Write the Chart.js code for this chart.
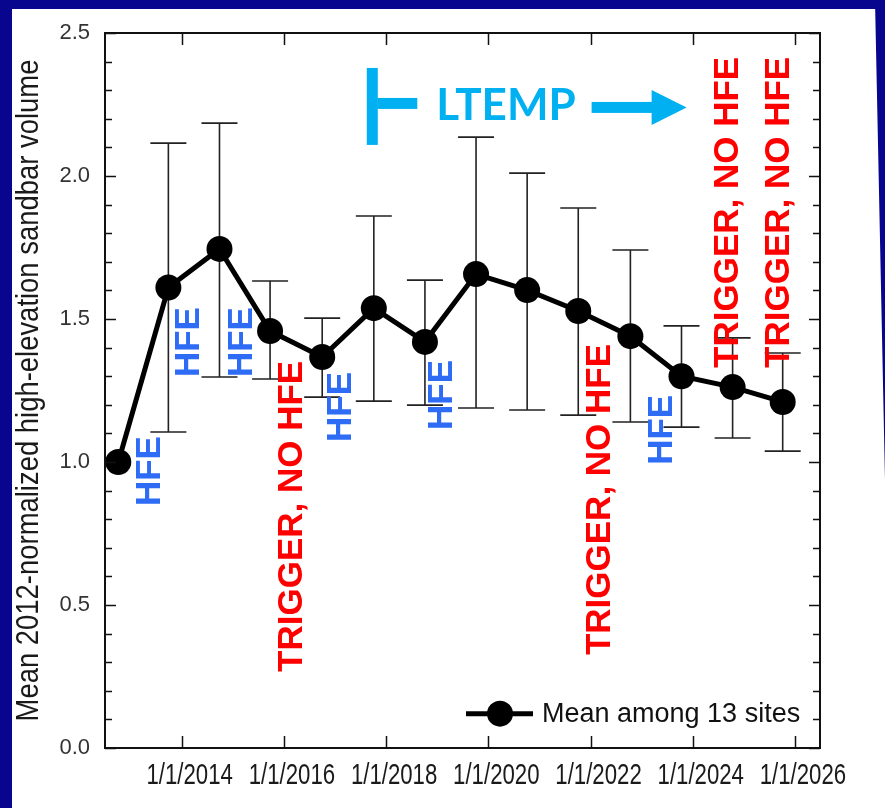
<!DOCTYPE html>
<html>
<head>
<meta charset="utf-8">
<title>Mean normalized high-elevation sandbar volume</title>
<script src="https://cdn.jsdelivr.net/npm/chart.js@4.4.1/dist/chart.umd.min.js"></script>
<style>
    html, body { margin: 0; padding: 0; background: #ffffff; }
    canvas { display: block; }
</style>
</head>
<body>
<canvas id="sandbarChart" width="885" height="808"></canvas>
<script>
// Survey dates (decimal years) and mean of the 13 sites
const surveyYears = [2012.76, 2013.74, 2014.74, 2015.73, 2016.75, 2017.76, 2018.76, 2019.76, 2020.76, 2021.76, 2022.78, 2023.78, 2024.78, 2025.76];
const meanVolume = [1.00, 1.61, 1.745, 1.458, 1.367, 1.538, 1.42, 1.657, 1.601, 1.528, 1.44, 1.30, 1.262, 1.21];
const upperBound = [null, 2.115, 2.185, 1.633, 1.503, 1.86, 1.636, 2.136, 2.01, 1.888, 1.741, 1.476, 1.434, 1.381];
const lowerBound = [null, 1.105, 1.297, 1.29, 1.227, 1.213, 1.199, 1.189, 1.182, 1.164, 1.14, 1.122, 1.084, 1.038];

const tickYears = [2014, 2016, 2018, 2020, 2022, 2024, 2026];
const yTicks = [0, 0.5, 1.0, 1.5, 2.0, 2.5];
const yTitle = 'Mean 2012-normalized high-elevation sandbar volume';

// Event labels (vertical text), anchored at their lower end
const eventLabels = ['HFE', 'HFE', 'HFE', 'TRIGGER, NO HFE', 'HFE', 'HFE', 'TRIGGER, NO HFE', 'HFE', 'TRIGGER, NO HFE', 'TRIGGER, NO HFE'];
const eventYears = [2013.35, 2014.12, 2015.14, 2016.13, 2017.09, 2019.07, 2022.16, 2023.36, 2024.65, 2025.65];
const eventBase = [0.846, 1.297, 1.297, 0.266, 1.07, 1.112, 0.325, 0.99, 1.329, 1.329];

// LTEMP period marker
const ltempStartYear = 2017.73;
const ltempArrowEndYear = 2023.88;

const NAVY = '#08058f';
const HFE_BLUE = '#2f6cf6';
const TRIGGER_RED = '#ff0000';
const LTEMP_CYAN = '#00b0f0';
const SANS = "'Liberation Sans', Arial, sans-serif";
const NARROW_SCALE = 0.74; // squeeze to mimic Arial Narrow

/**
 * Background, error bars, frame ticks, narrow labels and annotations
 */
const decorPlugin = {
    id: 'decor',
    beforeDraw(chart) {
        const ctx = chart.ctx;
        ctx.save();
        ctx.fillStyle = '#ffffff';
        ctx.fillRect(0, 0, chart.width, chart.height);
        ctx.fillStyle = NAVY;
        ctx.fillRect(0, 0, chart.width, 9);
        ctx.fillRect(0, 0, 12, chart.height);
        ctx.beginPath();
        ctx.moveTo(875, 0);
        ctx.lineTo(chart.width, 0);
        ctx.lineTo(chart.width, 480);
        ctx.closePath();
        ctx.fill();
        ctx.restore();
    },
    beforeDatasetsDraw(chart) {
        const ctx = chart.ctx;
        const xs = chart.scales.x;
        const ys = chart.scales.y;
        ctx.save();
        ctx.strokeStyle = '#222222';
        ctx.lineWidth = 1.6;
        for (let i = 0; i < surveyYears.length; i++) {
            if (upperBound[i] == null) continue;
            const px = xs.getPixelForValue(surveyYears[i]);
            const top = ys.getPixelForValue(upperBound[i]);
            const bot = ys.getPixelForValue(lowerBound[i]);
            ctx.beginPath();
            ctx.moveTo(px, top);
            ctx.lineTo(px, bot);
            ctx.moveTo(px - 18, top);
            ctx.lineTo(px + 18, top);
            ctx.moveTo(px - 18, bot);
            ctx.lineTo(px + 18, bot);
            ctx.stroke();
        }
        ctx.restore();
    },
    afterDraw(chart) {
        const ctx = chart.ctx;
        const area = chart.chartArea;
        const xs = chart.scales.x;
        const ys = chart.scales.y;
        ctx.save();

        // frame
        ctx.strokeStyle = '#111111';
        ctx.lineWidth = 2;
        ctx.strokeRect(area.left, area.top, area.right - area.left, area.bottom - area.top);

        // inside ticks
        ctx.lineWidth = 1.5;
        ctx.beginPath();
        for (let k = 0; k <= 25; k++) {
            const py = Math.round(ys.getPixelForValue(k / 10)) + 0.5;
            const len = (k % 5 === 0) ? 11 : 7;
            ctx.moveTo(area.left, py);
            ctx.lineTo(area.left + len, py);
            ctx.moveTo(area.right, py);
            ctx.lineTo(area.right - len, py);
        }
        tickYears.forEach(function(yr) {
            const px = Math.round(xs.getPixelForValue(yr)) + 0.5;
            ctx.moveTo(px, area.bottom);
            ctx.lineTo(px, area.bottom - 12);
            ctx.moveTo(px, area.top);
            ctx.lineTo(px, area.top + 12);
        });
        ctx.stroke();

        // x tick labels (narrow), set slightly right of their ticks as in the original
        ctx.fillStyle = '#1a1a1a';
        ctx.font = '30px ' + SANS;
        ctx.textAlign = 'center';
        ctx.textBaseline = 'middle';
        xs.ticks.forEach(function(t) {
            const px = xs.getPixelForValue(t.value);
            ctx.save();
            ctx.translate(px + 8, area.bottom + 28);
            ctx.scale(NARROW_SCALE, 1);
            ctx.fillText('1/1/' + t.value, 0, 0);
            ctx.restore();
        });

        // y axis title (narrow)
        ctx.save();
        ctx.font = '31px ' + SANS;
        ctx.translate(29, (area.top + area.bottom) / 2);
        ctx.rotate(-Math.PI / 2);
        ctx.scale(0.885, 1);
        ctx.fillText(yTitle, 0, 0);
        ctx.restore();

        // event labels
        ctx.font = 'bold 35px ' + SANS;
        ctx.textAlign = 'left';
        ctx.textBaseline = 'middle';
        for (let i = 0; i < eventLabels.length; i++) {
            const px = xs.getPixelForValue(eventYears[i]);
            const py = ys.getPixelForValue(eventBase[i]);
            ctx.save();
            ctx.translate(px, py);
            ctx.rotate(-Math.PI / 2);
            ctx.fillStyle = eventLabels[i] === 'HFE' ? HFE_BLUE : TRIGGER_RED;
            ctx.fillText(eventLabels[i], 0, 2);
            ctx.restore();
        }

        // LTEMP marker
        const lx = xs.getPixelForValue(ltempStartYear);
        const ly = ys.getPixelForValue(2.245);
        ctx.fillStyle = LTEMP_CYAN;
        ctx.fillRect(lx - 5.5, ly - 38, 11, 77);
        ctx.fillRect(lx + 5, ly - 8, 40, 11);
        ctx.font = 'bold 44px Lato, ' + SANS;
        ctx.textBaseline = 'middle';
        ctx.fillText('LTEMP', lx + 64, ly);
        const tip = xs.getPixelForValue(ltempArrowEndYear);
        ctx.fillRect(tip - 95, ly - 4, 62, 11);
        ctx.beginPath();
        ctx.moveTo(tip - 35, ly - 16);
        ctx.lineTo(tip, ly + 1.5);
        ctx.lineTo(tip - 35, ly + 19);
        ctx.closePath();
        ctx.fill();

        // legend
        const ds = chart.data.datasets[0];
        const legY = ys.getPixelForValue(0.12);
        ctx.strokeStyle = '#000000';
        ctx.lineWidth = 5;
        ctx.beginPath();
        ctx.moveTo(466, legY);
        ctx.lineTo(533, legY);
        ctx.stroke();
        ctx.fillStyle = '#000000';
        ctx.beginPath();
        ctx.arc(500, legY, 13, 0, Math.PI * 2);
        ctx.fill();
        ctx.fillStyle = '#111111';
        ctx.font = '27px ' + SANS;
        ctx.textAlign = 'left';
        ctx.fillText(ds.label, 542, legY + 1);

        ctx.restore();
    }
};

let sandbarChart = null;

function renderSandbarChart() {
    const ctx = document.getElementById('sandbarChart');
    if (!ctx) return;

    const points = surveyYears.map(function(yr, i) {
        return { x: yr, y: meanVolume[i] };
    });

    sandbarChart = new Chart(ctx, {
        type: 'line',
        data: {
            datasets: [{
                label: 'Mean among 13 sites',
                data: points,
                borderColor: '#000000',
                backgroundColor: '#000000',
                borderWidth: 5,
                pointRadius: 13,
                pointHoverRadius: 13,
                pointBorderWidth: 0,
                tension: 0
            }]
        },
        options: {
            responsive: false,
            animation: false,
            devicePixelRatio: 1,
            layout: { padding: { top: 33, right: 65, left: 0, bottom: 0 } },
            plugins: {
                legend: { display: false },
                tooltip: { enabled: false }
            },
            scales: {
                x: {
                    type: 'linear',
                    min: 2012.5,
                    max: 2026.49,
                    afterBuildTicks: function(scale) {
                        scale.ticks = tickYears.map(function(v) { return { value: v }; });
                    },
                    afterFit: function(scale) { scale.height = 60; },
                    grid: { display: false, drawTicks: false },
                    border: { display: false },
                    ticks: { display: false, autoSkip: false }
                },
                y: {
                    min: 0,
                    max: 2.5,
                    afterBuildTicks: function(scale) {
                        scale.ticks = yTicks.map(function(v) { return { value: v }; });
                    },
                    afterFit: function(scale) { scale.width = 105; },
                    grid: { display: false, drawTicks: false },
                    border: { display: false },
                    ticks: {
                        padding: 15,
                        color: '#333333',
                        font: { family: SANS, size: 22 },
                        callback: function(v) { return v.toFixed(1); }
                    }
                }
            }
        },
        plugins: [decorPlugin]
    });
}

renderSandbarChart();
</script>
</body>
</html>
